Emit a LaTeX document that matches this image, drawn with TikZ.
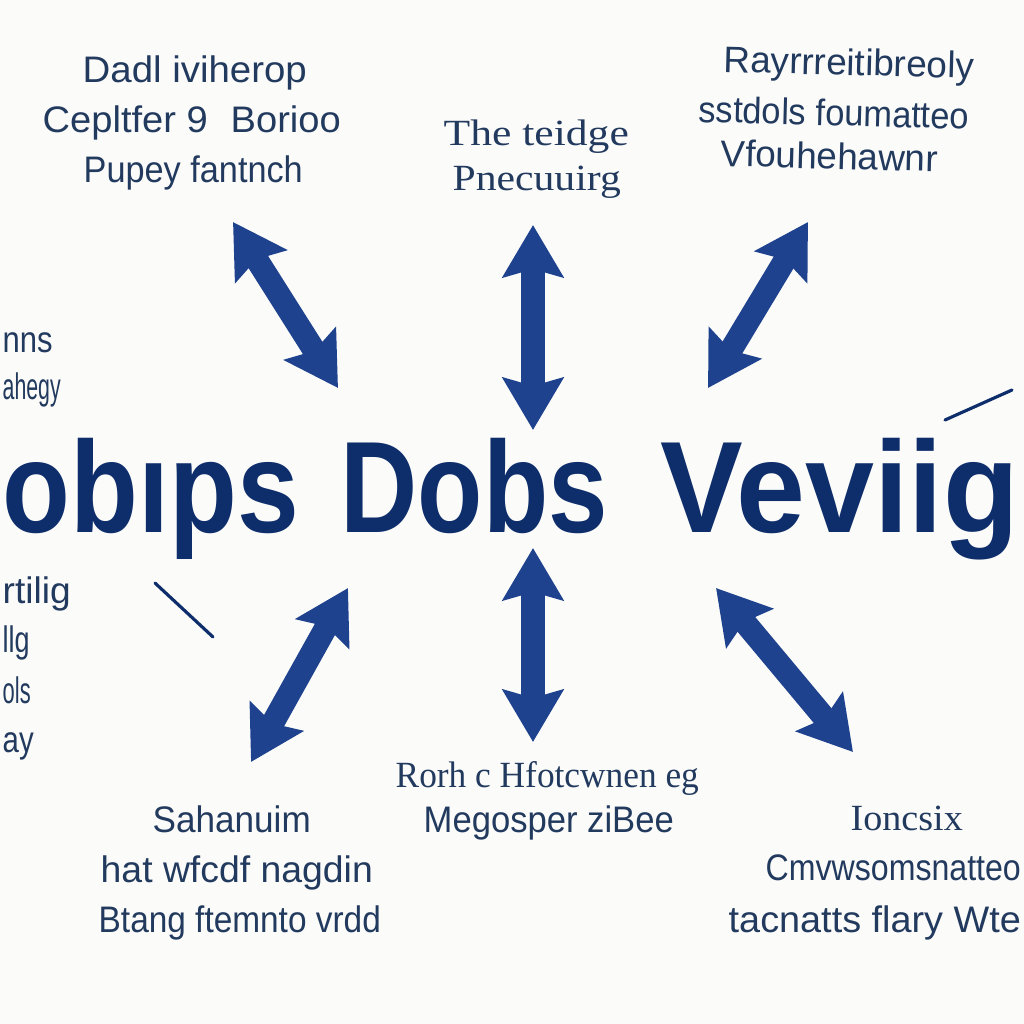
\documentclass[tikz,border=0pt]{standalone}
\usepackage{fontspec}
\setmainfont{Liberation Sans}
\newfontfamily\serifx{Liberation Serif}
\usetikzlibrary{arrows.meta}
\definecolor{navytxt}{HTML}{0E2D6B}
\definecolor{labtxt}{HTML}{223A5E}
\definecolor{arrowc}{HTML}{1F428F}
\definecolor{bgc}{HTML}{FBFBFA}
\newcommand{\fitline}[2]{\resizebox{#1}{\height}{#2}}
\begin{document}
\begin{tikzpicture}[x=0.01cm,y=-0.01cm,
  lab/.style={anchor=base west, inner sep=0pt, text=labtxt, font=\fontsize{10.5}{12}\selectfont},
  slab/.style={lab, font=\fontsize{10.5}{12}\selectfont\serifx},
  big/.style={anchor=base west, inner sep=0pt, text=navytxt, font=\fontsize{37}{40}\selectfont\bfseries},
  barrow/.style={draw=arrowc, line width=0.23cm,
    {Stealth[length=0.52cm,width=0.6cm,inset=0.08cm]}-{Stealth[length=0.52cm,width=0.6cm,inset=0.08cm]}},
  thinline/.style={draw=navytxt, line width=0.9pt, line cap=round}]
\useasboundingbox (0,0) rectangle (1024,1024);
\fill[bgc] (0,0) rectangle (1024,1024);
\clip (0,0) rectangle (1024,1024);

% central title
\node[big] (w1) at (2,532) {\fitline{2.96cm}{obıps}};
\node[big] (w2) at (340,532) {\fitline{2.67cm}{Dobs}};
\node[big] (w3) at (660,532) {\fitline{3.58cm}{Veviig}};

% top-left block
\node[lab] (tl1) at (82,82) {\fitline{2.24cm}{Dadl iviherop}};
\node[lab] (tl2) at (42,132) {\fitline{2.98cm}{Cepltfer 9\hspace{0.6em}Borioo}};
\node[lab] (tl3) at (83,182) {\fitline{2.19cm}{Pupey fantnch}};

% top-middle block
\node[slab] (tm1) at (443,145) {\fitline{1.85cm}{The teidge}};
\node[slab] (tm2) at (452,190) {\fitline{1.68cm}{Pnecuuirg}};

% top-right block
\node[lab, rotate=-1.5] (tr1) at (723,72) {\fitline{2.5cm}{Rayrrreitibreoly}};
\node[lab, rotate=-1.5] (tr2) at (698,122) {\fitline{2.7cm}{sstdols foumatteo}};
\node[lab, rotate=-1.5] (tr3) at (720,166) {\fitline{2.17cm}{Vfouhehawnr}};

% left edge fragments
\node[lab] (l1) at (2,352) {\fitline{0.5cm}{nns}};
\node[lab] (l2) at (2,399) {\fitline{0.58cm}{ahegy}};
\node[lab] (l3) at (2,603) {\fitline{0.68cm}{rtilig}};
\node[lab] (l4) at (2,652) {\fitline{0.27cm}{llg}};
\node[lab] (l5) at (2,703) {\fitline{0.28cm}{ols}};
\node[lab] (l6) at (2,752) {\fitline{0.31cm}{ay}};

% bottom-middle block
\node[slab] (bm1) at (395,787) {\fitline{3.03cm}{Rorh c Hfotcwnen eg}};
\node[lab] (bm2) at (423,832) {\fitline{2.5cm}{Megosper ziBee}};

% bottom-left block
\node[lab] (bl1) at (152,832) {\fitline{1.58cm}{Sahanuim}};
\node[lab] (bl2) at (100,882) {\fitline{2.72cm}{hat wfcdf nagdin}};
\node[lab] (bl3) at (98,932) {\fitline{2.82cm}{Btang ftemnto vrdd}};

% bottom-right block
\node[slab] (br1) at (850,830) {\fitline{1.12cm}{Ioncsix}};
\node[lab] (br2) at (765,880) {\fitline{2.55cm}{Cmvwsomsnatteo}};
\node[lab] (br3) at (728,932) {\fitline{2.92cm}{tacnatts flary Wte}};

% arrow end points
\coordinate (a1s) at (233,222); \coordinate (a1e) at (338,388);
\coordinate (a2s) at (533,225); \coordinate (a2e) at (533,430);
\coordinate (a3s) at (808,222); \coordinate (a3e) at (708,388);
\coordinate (a4s) at (348,588); \coordinate (a4e) at (251,762);
\coordinate (a5s) at (533,548); \coordinate (a5e) at (533,742);
\coordinate (a6s) at (716,588); \coordinate (a6e) at (853,752);

\draw[barrow] (a1s) -- (a1e);
\draw[barrow] (a2s) -- (a2e);
\draw[barrow] (a3s) -- (a3e);
\draw[barrow] (a4s) -- (a4e);
\draw[barrow] (a5s) -- (a5e);
\draw[barrow] (a6s) -- (a6e);

% thin strokes
\coordinate (t1s) at (155,583); \coordinate (t1e) at (213,637);
\coordinate (t2s) at (945,420); \coordinate (t2e) at (1012,390);
\draw[thinline] (t1s) -- (t1e);
\draw[thinline] (t2s) -- (t2e);
\end{tikzpicture}
\end{document}
